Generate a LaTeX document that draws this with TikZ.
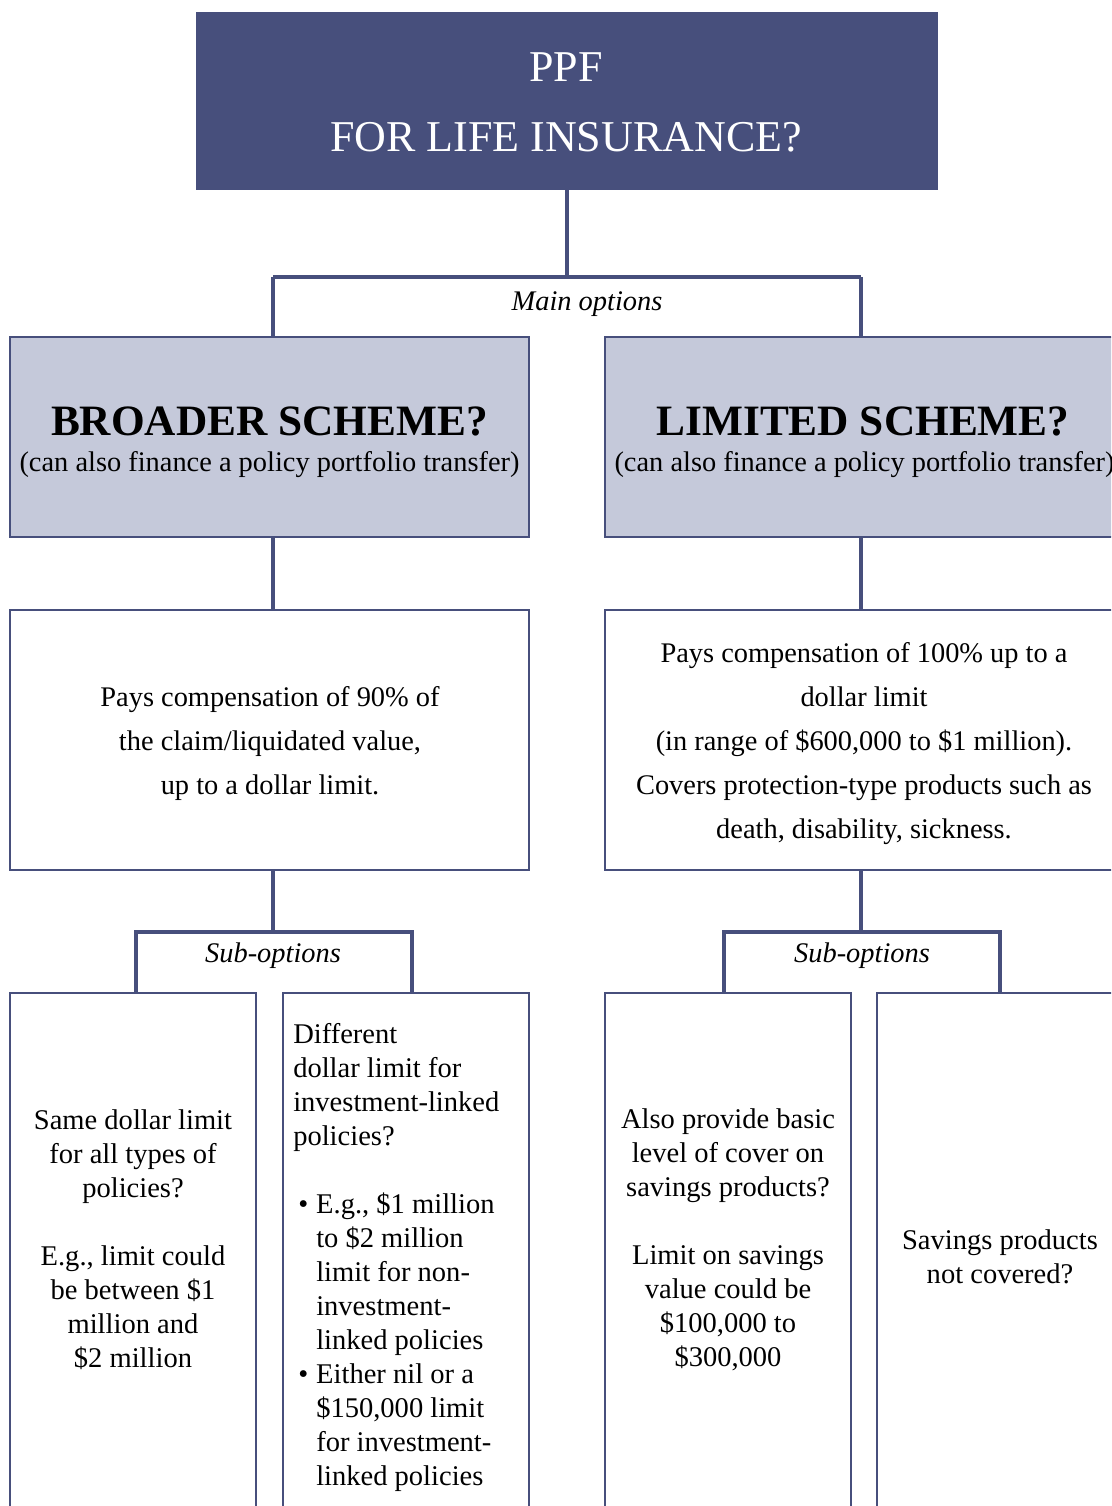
\documentclass[tikz,border=0pt]{standalone}
\usepackage{fontspec}
\setmainfont{Liberation Serif}
\definecolor{navy}{RGB}{71,79,124}
\definecolor{lav}{RGB}{197,201,218}
\begin{document}
\begin{tikzpicture}[x=0.75pt,y=-0.75pt,
  conn/.style={draw=navy,line width=3pt},
  boxline/.style={draw=navy,line width=1.5pt,inner sep=0pt,outer sep=0pt},
  headbox/.style={boxline,fill=lav,minimum width=389.25pt,minimum height=150pt},
  midbox/.style={boxline,fill=white,minimum width=389.25pt,minimum height=195pt},
  lowbox/.style={boxline,fill=white,minimum width=184.5pt,minimum height=414pt},
  normal/.style={font=\fontsize{21.3}{25.5}\selectfont,inner sep=0pt},
  midtext/.style={font=\fontsize{21.3}{33}\selectfont,align=center,inner sep=0pt},
  lowtext/.style={font=\fontsize{21.4}{25.5}\selectfont,align=center,inner sep=0pt},
  ital/.style={font=\itshape\fontsize{21.3}{25.5}\selectfont,inner sep=0pt},
  heading/.style={font=\bfseries\fontsize{32.5}{32.5}\selectfont,anchor=base,inner sep=0pt}
]
\useasboundingbox (0,0) rectangle (1111,1506);
\clip (0,0) rectangle (1111,1506);

% top box
\node[fill=navy,minimum width=556.5pt,minimum height=133.5pt,inner sep=0pt,outer sep=0pt] (top) at (566.5,101) {};
\node[text=white,font=\fontsize{33}{52.5}\selectfont,align=center,inner sep=0pt] (toptext) at (566,102.5) {PPF\\FOR LIFE INSURANCE?};

% main options bracket
\coordinate (jm) at (566.5,277);
\coordinate (jl) at (273,277);
\coordinate (jr) at (861,277);

% head boxes
\node[headbox] (broad) at (269.5,437) {};
\node[headbox] (limited) at (864.5,437) {};
\node[heading] (broadh) at (269.5,435) {BROADER SCHEME?};
\node[normal,anchor=base] (broads) at (269.5,471) {(can also finance a policy portfolio transfer)};
\node[heading] (limh) at (863,435) {LIMITED SCHEME?};
\node[normal,anchor=base] (lims) at (864.5,471) {(can also finance a policy portfolio transfer)};

\draw[conn] (top.south) -- (jm);
\draw[conn] (jl) -- (jr);
\draw[conn] (jl) -- (jl |- broad.north);
\draw[conn] (jr) -- (jr |- limited.north);
\node[ital] (mainopt) at (587,304) {Main options};

% middle boxes
\node[midbox] (broadm) at (269.5,740) {};
\node[midbox] (limm) at (864.5,740) {};
\draw[conn] (jl |- broad.south) -- (jl |- broadm.north);
\draw[conn] (jr |- limited.south) -- (jr |- limm.north);
\node[midtext] (broadmt) at (270,744) {Pays compensation of 90\% of\\the claim/liquidated value,\\up to a dollar limit.};
\node[midtext] (limmt) at (864,744) {Pays compensation of 100\% up to a\\dollar limit\\(in range of \$600,000 to \$1 million).\\Covers protection-type products such as\\death, disability, sickness.};

% sub-options brackets
\coordinate (sl) at (273,932);
\coordinate (sla) at (136,932);
\coordinate (slb) at (412,932);
\coordinate (sr) at (861,932);
\coordinate (sra) at (724,932);
\coordinate (srb) at (1000,932);

\node[lowbox] (b1) at (133,1269) {};
\node[lowbox] (b2) at (406,1269) {};
\node[lowbox] (b3) at (727.5,1269) {};
\node[lowbox] (b4) at (1000,1269) {};

\draw[conn] (jl |- broadm.south) -- (sl);
\draw[conn] (sla |- b1.north) -- (sla) -- (slb) -- (slb |- b2.north);
\draw[conn] (jr |- limm.south) -- (sr);
\draw[conn] (sra |- b3.north) -- (sra) -- (srb) -- (srb |- b4.north);
\node[ital] (subl) at (273,956) {Sub-options};
\node[ital] (subr) at (862,956) {Sub-options};

% bottom texts
\node[lowtext] (t1) at (133,1239.5) {Same dollar limit\\for all types of\\policies?\\[25.5pt]E.g., limit could\\be between \$1\\million and\\\$2 million};
\node[lowtext,align=left,anchor=north west] (t2) at (293,1023) {Different\\dollar limit for\\investment-linked\\policies?\\[25.5pt]%
\hspace*{3.75pt}\makebox[13.5pt][l]{\textbullet}E.g., \$1 million\\
\hspace*{17.25pt}to \$2 million\\
\hspace*{17.25pt}limit for non-\\
\hspace*{17.25pt}investment-\\
\hspace*{17.25pt}linked policies\\
\hspace*{3.75pt}\makebox[13.5pt][l]{\textbullet}Either nil or a\\
\hspace*{17.25pt}\$150,000 limit\\
\hspace*{17.25pt}for investment-\\
\hspace*{17.25pt}linked policies};
\node[lowtext] (t3) at (728,1239.5) {Also provide basic\\level of cover on\\savings products?\\[25.5pt]Limit on savings\\value could be\\\$100,000 to\\\$300,000};
\node[lowtext] (t4) at (1000,1257) {Savings products\\not covered?};
\end{tikzpicture}
\end{document}
